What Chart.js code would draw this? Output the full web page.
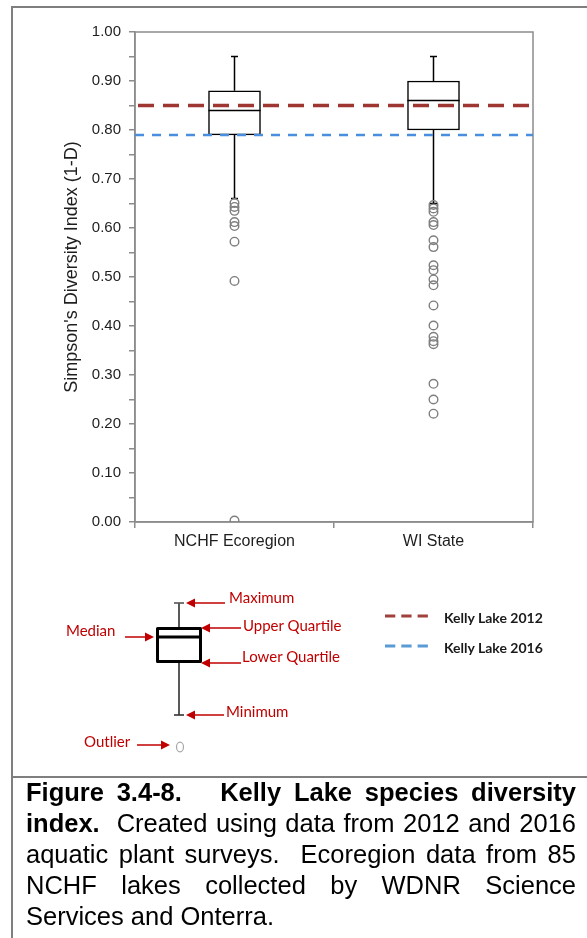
<!DOCTYPE html>
<html>
<head>
<meta charset="utf-8">
<script src="https://cdn.jsdelivr.net/npm/chart.js@4.4.0/dist/chart.umd.min.js"></script>
<style>
html,body{margin:0;padding:0;background:#fff;}
body{width:587px;height:938px;position:relative;overflow:hidden;font-family:"Liberation Sans",Arial,sans-serif;}
#chartWrap{position:absolute;left:0;top:0;width:587px;height:570px;}
.frameLine{position:absolute;background:#7f7f7f;}
.lbl{position:absolute;font-family:Lato,"Noto Sans",sans-serif;font-size:15px;color:#c00000;line-height:18px;white-space:nowrap;}
.leg{position:absolute;font-family:Lato,"Noto Sans",sans-serif;font-weight:bold;font-size:14px;color:#1a1a1a;line-height:16px;white-space:nowrap;}
#diagram{position:absolute;left:0;top:0;}
#caption{position:absolute;left:26px;top:777px;width:550px;font-size:25.5px;line-height:31px;color:#000;font-family:"Liberation Sans",Arial,sans-serif;}
#caption div{text-align:justify;text-align-last:justify;}
#caption div.last{text-align-last:left;}
</style>
</head>
<body>
<div id="chartWrap"><canvas id="c" width="587" height="570"></canvas></div>

<svg id="diagram" width="587" height="938" xmlns="http://www.w3.org/2000/svg">
  <!-- box legend diagram -->
  <line x1="179" y1="603" x2="179" y2="628" stroke="#000" stroke-width="1.3"/>
  <line x1="179" y1="662" x2="179" y2="715" stroke="#000" stroke-width="1.3"/>
  <line x1="174" y1="603" x2="184" y2="603" stroke="#555" stroke-width="1.6"/>
  <line x1="174" y1="715" x2="184" y2="715" stroke="#333" stroke-width="1.6"/>
  <rect x="157.5" y="628.5" width="43" height="33" fill="#fff" stroke="#000" stroke-width="3" stroke-linejoin="round"/>
  <line x1="157.5" y1="637" x2="200.5" y2="637" stroke="#000" stroke-width="3"/>
  <ellipse cx="180" cy="747" rx="3.5" ry="4.8" fill="none" stroke="#a6a6a6" stroke-width="1.2"/>
  <!-- arrows -->
  <g stroke="#c00000" stroke-width="1.5" fill="#c00000">
    <line x1="225" y1="603" x2="193" y2="603"/>
    <polygon stroke="none" points="186,603 195,598.5 195,607.5"/>
    <line x1="241" y1="628" x2="208" y2="628"/>
    <polygon stroke="none" points="201,628 210,623.5 210,632.5"/>
    <line x1="241" y1="663" x2="208" y2="663"/>
    <polygon stroke="none" points="201,663 210,658.5 210,667.5"/>
    <line x1="224" y1="715" x2="193" y2="715"/>
    <polygon stroke="none" points="186,715 195,710.5 195,719.5"/>
    <line x1="125" y1="637" x2="147" y2="637"/>
    <polygon stroke="none" points="154,637 145,632.5 145,641.5"/>
    <line x1="137" y1="745" x2="163" y2="745"/>
    <polygon stroke="none" points="170,745 161,740.5 161,749.5"/>
  </g>
  <!-- series legend -->
  <line x1="385" y1="616" x2="428" y2="616" stroke="#a0413d" stroke-width="3" stroke-dasharray="10.3 6"/>
  <line x1="385" y1="646" x2="428" y2="646" stroke="#5b9bd5" stroke-width="3" stroke-dasharray="10.3 6"/>
</svg>

<div class="lbl" style="left:229px;top:588px;">Maximum</div>
<div class="lbl" style="left:243px;top:616px;">Upper Quartile</div>
<div class="lbl" style="left:66px;top:621px;">Median</div>
<div class="lbl" style="left:242px;top:647px;">Lower Quartile</div>
<div class="lbl" style="left:226px;top:702px;">Minimum</div>
<div class="lbl" style="left:84px;top:732px;">Outlier</div>
<div class="leg" style="left:444px;top:610px;">Kelly Lake 2012</div>
<div class="leg" style="left:444px;top:640px;">Kelly Lake 2016</div>

<div class="frameLine" style="left:12px;top:6px;width:575px;height:2px;"></div>
<div class="frameLine" style="left:11px;top:6px;width:2px;height:932px;"></div>
<div class="frameLine" style="left:12px;top:776px;width:575px;height:2px;"></div>

<div id="caption">
  <div><b>Figure 3.4-8.&nbsp;&nbsp; Kelly Lake species diversity</b></div>
  <div><b>index.</b>&nbsp; Created using data from 2012 and 2016</div>
  <div>aquatic plant surveys.&nbsp; Ecoregion data from 85</div>
  <div>NCHF lakes collected by WDNR Science</div>
  <div class="last">Services and Onterra.</div>
</div>

<script>
// ---- data ----
const categories = ['NCHF Ecoregion', 'WI State'];
const whiskerMin = [0.66, 0.65];
const quartile1 = [0.79, 0.80];
const medians = [0.84, 0.86];
const quartile3 = [0.88, 0.90];
const whiskerMax = [0.95, 0.95];
const outliersNCHF = [0.651, 0.643, 0.635, 0.612, 0.604, 0.572, 0.492, 0.003];
const outliersWI = [0.647, 0.640, 0.633, 0.612, 0.606, 0.575, 0.561, 0.524, 0.514, 0.495, 0.483, 0.442, 0.401, 0.378, 0.369, 0.363, 0.282, 0.250, 0.221];
const kellyLake2012 = [0.85, 0.85];
const kellyLake2016 = [0.79, 0.79];
const yTickLabels = ['0.00','0.10','0.20','0.30','0.40','0.50','0.60','0.70','0.80','0.90','1.00'];
const yAxisTitle = "Simpson's Diversity Index (1-D)";

// ---- derived structures ----
const boxData = categories.map((c, i) => [quartile1[i], quartile3[i]]);
const outlierPoints = outliersNCHF.map(v => ({x: categories[0], y: v}))
  .concat(outliersWI.map(v => ({x: categories[1], y: v})));
const refLine = arr => [{x: 0, y: arr[0]}, {x: 1, y: arr[1]}];

const AXIS_GRAY = '#8c8c8c';

const boxPlugin = {
  id: 'boxWhiskers',
  afterDatasetDraw(chart, args) {
    if (args.index !== 0) return;
    const ctx = chart.ctx;
    const ys = chart.scales.y;
    const meta = chart.getDatasetMeta(0);
    ctx.save();
    ctx.strokeStyle = '#000';
    ctx.lineWidth = 1.5;
    categories.forEach((c, i) => {
      const bar = meta.data[i];
      const cx = bar.x;
      const half = bar.width / 2;
      const yMin = ys.getPixelForValue(whiskerMin[i]);
      const yQ1 = ys.getPixelForValue(quartile1[i]);
      const yMed = ys.getPixelForValue(medians[i]);
      const yQ3 = ys.getPixelForValue(quartile3[i]);
      const yMax = ys.getPixelForValue(whiskerMax[i]);
      ctx.beginPath();
      ctx.moveTo(cx, yQ3); ctx.lineTo(cx, yMax);
      ctx.moveTo(cx, yQ1); ctx.lineTo(cx, yMin);
      ctx.moveTo(cx - 3.5, yMax); ctx.lineTo(cx + 3.5, yMax);
      ctx.moveTo(cx - 3.5, yMin); ctx.lineTo(cx + 3.5, yMin);
      ctx.moveTo(cx - half, yMed); ctx.lineTo(cx + half, yMed);
      ctx.stroke();
    });
    ctx.restore();
  }
};

const framePlugin = {
  id: 'plotFrame',
  beforeDatasetsDraw(chart) {
    const {ctx, chartArea: a} = chart;
    ctx.save();
    ctx.strokeStyle = AXIS_GRAY;
    ctx.lineWidth = 1.5;
    ctx.strokeRect(a.left, a.top, a.right - a.left, a.bottom - a.top);
    ctx.restore();
  }
};

new Chart(document.getElementById('c'), {
  data: {
    labels: categories,
    datasets: [
      {
        type: 'bar', label: 'box', data: boxData,
        xAxisID: 'x', yAxisID: 'y',
        backgroundColor: '#ffffff', borderColor: '#000000', borderWidth: 1.5,
        borderSkipped: false, barThickness: 52, grouped: false, order: 3
      },
      {
        type: 'line', label: 'outliers', data: outlierPoints,
        xAxisID: 'x', yAxisID: 'y', showLine: false,
        pointStyle: 'circle', pointRadius: 4.3, pointBorderWidth: 1.4,
        pointBorderColor: '#7f7f7f', pointBackgroundColor: 'rgba(0,0,0,0)', order: 2
      },
      {
        type: 'line', label: 'Kelly Lake 2012', data: refLine(kellyLake2012),
        xAxisID: 'xr', yAxisID: 'y',
        borderColor: '#9e3631', borderWidth: 3.5, borderDash: [16, 9], borderDashOffset: -3,
        borderCapStyle: 'butt', pointRadius: 0, fill: false, order: 1
      },
      {
        type: 'line', label: 'Kelly Lake 2016', data: refLine(kellyLake2016),
        xAxisID: 'xr', yAxisID: 'y',
        borderColor: '#4a8ede', borderWidth: 2.5, borderDash: [9, 8],
        borderCapStyle: 'butt', pointRadius: 0, fill: false, order: 0
      }
    ]
  },
  options: {
    responsive: false,
    animation: false,
    events: [],
    layout: { padding: { left: 0, right: 54, top: 32, bottom: 0 } },
    plugins: { legend: { display: false }, tooltip: { enabled: false } },
    scales: {
      x: {
        type: 'category', position: 'bottom', offset: true,
        grid: { drawOnChartArea: false, drawTicks: true, tickLength: 6, offset: true, color: AXIS_GRAY, lineWidth: 1.5 },
        border: { display: true, color: AXIS_GRAY, width: 1.5 },
        ticks: { font: { family: '"Liberation Sans", Arial, sans-serif', size: 16 }, color: '#1e1e1e', padding: 4, maxRotation: 0 },
        afterFit(s) { s.height = 48; }
      },
      xr: { type: 'linear', min: 0, max: 1, display: false },
      y: {
        type: 'linear', position: 'left', min: 0, max: 1,
        ticks: {
          stepSize: 0.05, autoSkip: false, padding: 8,
          font: { family: '"Liberation Sans", Arial, sans-serif', size: 15 }, color: '#1e1e1e',
          callback(v) { const k = Math.round(v * 100); return k % 10 === 0 ? yTickLabels[k / 10] : ''; }
        },
        grid: { drawOnChartArea: false, drawTicks: true, tickLength: 6, color: AXIS_GRAY, lineWidth: 1.5 },
        border: { display: true, color: AXIS_GRAY, width: 1.5 },
        title: {
          display: true, text: '\u00a0\u00a0\u00a0\u00a0' + yAxisTitle, color: '#1e1e1e',
          font: { family: '"Liberation Sans", Arial, sans-serif', size: 18 },
          padding: { top: 61, bottom: 0 }
        },
        afterFit(s) { s.width = 135; }
      }
    }
  },
  plugins: [boxPlugin, framePlugin]
});
</script>
</body>
</html>
